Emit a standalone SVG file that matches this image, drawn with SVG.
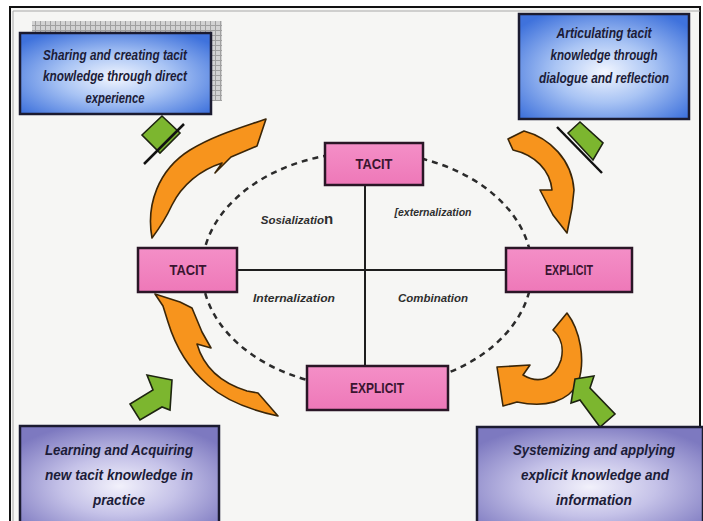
<svg xmlns="http://www.w3.org/2000/svg" width="703" height="521" viewBox="0 0 703 521">
<defs>
<radialGradient id="blueG" cx="50%" cy="55%" r="65%">
<stop offset="0" stop-color="#f2f6ff"/>
<stop offset="0.45" stop-color="#a9c4f4"/>
<stop offset="1" stop-color="#3f72dc"/>
</radialGradient>
<radialGradient id="purpG" cx="50%" cy="60%" r="65%">
<stop offset="0" stop-color="#f2f1fb"/>
<stop offset="0.45" stop-color="#c5c2e8"/>
<stop offset="1" stop-color="#7d79c0"/>
</radialGradient>
<linearGradient id="pinkG" x1="0" y1="0" x2="0" y2="1">
<stop offset="0" stop-color="#f48fc7"/>
<stop offset="1" stop-color="#ee78b8"/>
</linearGradient>
<pattern id="hatch" width="5" height="5" patternUnits="userSpaceOnUse">
<rect width="5" height="5" fill="#d2d2d2"/>
<path d="M0 0.5H5M0.5 0V5" stroke="#a0a0a0" stroke-width="1"/>
</pattern>
<style>
.box{stroke:#1b1b30;stroke-width:2.5}
.btxt{font-family:"Liberation Sans",Arial,sans-serif;font-weight:bold;font-style:italic;font-size:14.5px;fill:#1c1c38;text-anchor:middle}
.node{fill:url(#pinkG);stroke:#2a1626;stroke-width:2.5}
.ntxt{font-family:"Liberation Sans",Arial,sans-serif;font-weight:bold;font-size:14px;fill:#3a1530;text-anchor:middle}
.lbl{font-family:"Liberation Sans",Arial,sans-serif;font-weight:bold;font-style:italic;font-size:11.5px;fill:#2e2e2e;text-anchor:middle}
.orange{fill:#f7941d;stroke:#3b2608;stroke-width:1.6;stroke-linejoin:round}
.green{fill:#7cb62f;stroke:#1d2410;stroke-width:1.6;stroke-linejoin:miter}
.gline{stroke:#111;stroke-width:2.5;fill:none}
</style>
</defs>
<rect x="0" y="0" width="703" height="521" fill="#ffffff"/>
<rect x="10" y="7" width="690" height="520" fill="#f6f6f4" stroke="#111" stroke-width="2"/>
<path d="M13 11H700M13 11V521" stroke="#a8a8a8" stroke-width="1" fill="none"/>

<g id="connectors">
<ellipse cx="367" cy="270" rx="165" ry="118" fill="none" stroke="#2b2b2b" stroke-width="2.5" stroke-dasharray="6 5"/>
<line x1="365" y1="185" x2="365" y2="366" stroke="#1e1e1e" stroke-width="2"/>
<line x1="237" y1="270" x2="506" y2="270" stroke="#1e1e1e" stroke-width="2"/>
</g>

<g id="cycle-arrows">
<path class="orange" d="M152,238 C146,205 158,170 190,150 C215,135 240,128 266,119 L257,146 L231,157 L215,173 L222,163 C200,170 182,185 172,205 C166,218 158,230 152,238 Z"/>
<path class="orange" d="M508,139 L524,131 C550,138 572,160 574,190 L572,208 L567,233 L553,215 L540,190 L552,190 C550,170 535,155 513,150 Z"/>
<path class="orange" d="M553,330 L567,313 C580,330 586,360 578,383 C568,402 545,408 517,402 L503,406 L497,367 L530,365 L523,375 C540,385 555,378 561,360 C564,348 561,337 553,330 Z"/>
<path class="orange" d="M155,294 L180,302 L192,308 L202,332 L211,348 L197,344 C203,365 218,382 247,391 L258,393 L278,416 C250,410 225,400 208,385 C188,368 175,345 168,322 L163,306 Z"/>
</g>

<g id="input-arrows">
<polygon class="green" points="142,135 162,116 180,133 160,153"/>
<line class="gline" x1="184" y1="124" x2="144" y2="164"/>
<polygon class="green" points="568,133 580,122 603,143 593,160"/>
<line class="gline" x1="557" y1="127" x2="602" y2="173"/>
<polygon class="green" points="172,380 147,375 153,390 130,404 140,420 162,407 170,410"/>
<polygon class="green" points="575,379 594,376 590,388 615,414 600,427 580,400 571,403"/>
</g>

<g id="labels">
<text class="lbl" x="297" y="224"><tspan>Sosializatio</tspan><tspan font-size="15" font-style="normal">n</tspan></text>
<text class="lbl" x="433" y="216" textLength="77" lengthAdjust="spacingAndGlyphs">[externalization</text>
<text class="lbl" x="294" y="302" textLength="82" lengthAdjust="spacingAndGlyphs">Internalization</text>
<text class="lbl" x="433" y="302" textLength="70" lengthAdjust="spacingAndGlyphs">Combination</text>
</g>

<g id="tacit-top">
<rect class="node" x="325" y="143" width="98" height="42"/>
<text class="ntxt" x="374" y="169" textLength="37" lengthAdjust="spacingAndGlyphs">TACIT</text>
</g>
<g id="tacit-left">
<rect class="node" x="138" y="248" width="99" height="44"/>
<text class="ntxt" x="188" y="275" textLength="37" lengthAdjust="spacingAndGlyphs">TACIT</text>
</g>
<g id="explicit-right">
<rect class="node" x="506" y="248" width="126" height="44"/>
<text class="ntxt" x="569" y="275" textLength="48" lengthAdjust="spacingAndGlyphs">EXPLICIT</text>
</g>
<g id="explicit-bottom">
<rect class="node" x="307" y="366" width="141" height="44"/>
<text class="ntxt" x="377" y="393" font-size="15" textLength="54" lengthAdjust="spacingAndGlyphs">EXPLICIT</text>
</g>

<g id="box-socialization">
<rect x="32" y="21" width="190" height="80" fill="url(#hatch)"/>
<rect class="box" x="20" y="33" width="191" height="81" fill="url(#blueG)"/>
<text class="btxt" x="115" y="60" textLength="144" lengthAdjust="spacingAndGlyphs">Sharing and creating tacit</text>
<text class="btxt" x="115" y="81" textLength="144" lengthAdjust="spacingAndGlyphs">knowledge through direct</text>
<text class="btxt" x="115" y="103" textLength="59" lengthAdjust="spacingAndGlyphs">experience</text>
</g>
<g id="box-externalization">
<rect class="box" x="519" y="14" width="170" height="105" fill="url(#blueG)"/>
<text class="btxt" x="604" y="38" textLength="95" lengthAdjust="spacingAndGlyphs">Articulating tacit</text>
<text class="btxt" x="604" y="60" textLength="107" lengthAdjust="spacingAndGlyphs">knowledge through</text>
<text class="btxt" x="604" y="83" textLength="130" lengthAdjust="spacingAndGlyphs">dialogue and reflection</text>
</g>
<g id="box-internalization">
<rect class="box" x="20" y="426" width="199" height="100" fill="url(#purpG)"/>
<text class="btxt" x="119" y="455" textLength="148" lengthAdjust="spacingAndGlyphs">Learning and Acquiring</text>
<text class="btxt" x="119" y="480" textLength="148" lengthAdjust="spacingAndGlyphs">new tacit knowledge in</text>
<text class="btxt" x="119" y="505" textLength="52" lengthAdjust="spacingAndGlyphs">practice</text>
</g>
<g id="box-combination">
<rect class="box" x="477" y="427" width="226" height="100" fill="url(#purpG)"/>
<text class="btxt" x="594" y="455" textLength="162" lengthAdjust="spacingAndGlyphs">Systemizing and applying</text>
<text class="btxt" x="595" y="480" textLength="148" lengthAdjust="spacingAndGlyphs">explicit knowledge and</text>
<text class="btxt" x="594" y="505" textLength="76" lengthAdjust="spacingAndGlyphs">information</text>
</g>
</svg>
